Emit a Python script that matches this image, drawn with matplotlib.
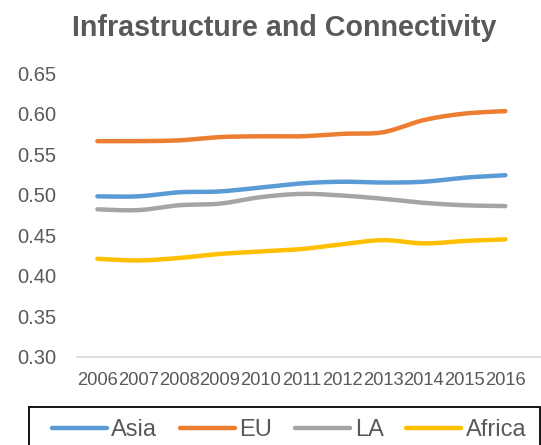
import numpy as np
import matplotlib.pyplot as plt
from matplotlib.patches import Rectangle

plt.rcParams['font.family'] = ['Liberation Sans', 'DejaVu Sans']

years = ['2006', '2007', '2008', '2009', '2010', '2011', '2012', '2013', '2014', '2015', '2016']
asia = [0.498, 0.498, 0.503, 0.504, 0.509, 0.514, 0.516, 0.515, 0.516, 0.521, 0.524]
eu = [0.566, 0.566, 0.567, 0.571, 0.572, 0.572, 0.575, 0.577, 0.592, 0.600, 0.603]
la = [0.482, 0.481, 0.487, 0.489, 0.497, 0.501, 0.499, 0.495, 0.490, 0.487, 0.486]
africa = [0.421, 0.419, 0.422, 0.427, 0.430, 0.433, 0.439, 0.444, 0.440, 0.443, 0.445]

series = [('Asia', asia, '#5B9BD5'), ('EU', eu, '#ED7D31'),
          ('LA', la, '#A5A5A5'), ('Africa', africa, '#FFC000')]
text_col = '#595959'


# Excel-like smoothed line (Catmull-Rom through the data points)
def smooth(y, n=20):
    y = np.asarray(y, dtype=float)
    x = np.arange(len(y), dtype=float)
    p = np.concatenate([[y[0]], y, [y[-1]]])
    px = np.concatenate([[x[0]], x, [x[-1]]])
    xs, ys = [], []
    t = np.linspace(0, 1, n, endpoint=False)
    for i in range(len(y) - 1):
        for arr, out in ((px, xs), (p, ys)):
            p0, p1, p2, p3 = arr[i], arr[i + 1], arr[i + 2], arr[i + 3]
            out.append(0.5 * (2 * p1 + (-p0 + p2) * t + (2 * p0 - 5 * p1 + 4 * p2 - p3) * t ** 2
                              + (-p0 + 3 * p1 - 3 * p2 + p3) * t ** 3))
    xs.append([x[-1]])
    ys.append([y[-1]])
    return np.concatenate(xs), np.concatenate(ys)


fig = plt.figure(figsize=(5.41, 4.45), dpi=100)
ax = fig.add_axes([77 / 541, 1 - 357 / 445, 1 - 77 / 541, (357 - 73) / 445])

for name, vals, col in series:
    sx, sy = smooth(vals)
    ax.plot(sx, sy, color=col, lw=3.2, solid_capstyle='round', label=name)

ax.set_ylim(0.30, 0.65)
ax.set_yticks(np.arange(0.30, 0.651, 0.05))
ax.set_yticklabels([f'{v:.2f}' for v in np.arange(0.30, 0.651, 0.05)])
ax.set_xlim(-0.5, (541 - 77) / 40.8 - 0.5)
ax.set_xticks(range(len(years)))
ax.set_xticklabels(years)

for s in ['top', 'right', 'left']:
    ax.spines[s].set_visible(False)
ax.spines['bottom'].set_color('#D9D9D9')
ax.spines['bottom'].set_linewidth(1.2)
ax.tick_params(axis='both', length=0, colors=text_col)
ax.tick_params(axis='y', labelsize=14.5, pad=15)
ax.tick_params(axis='x', labelsize=13.2, pad=11)

fig.suptitle('Infrastructure and Connectivity', x=284 / 541, y=1 - 14 / 445,
             fontsize=20.6, fontweight='bold', color=text_col, va='top')

# legend box (cut off at the bottom like the original)
fig.patches.append(Rectangle((29 / 541, -0.02), 511 / 541, (445 - 407) / 445 + 0.02,
                             transform=fig.transFigure, fill=False,
                             edgecolor='black', linewidth=1.3))
leg = fig.legend(loc='center', ncol=4, bbox_to_anchor=(289 / 541, 1 - 430 / 445),
                 fontsize=17, handlelength=2.35, handletextpad=0.18, columnspacing=0.95,
                 frameon=False, labelcolor=text_col, borderaxespad=0)

fig.savefig('out.png', dpi=100)
